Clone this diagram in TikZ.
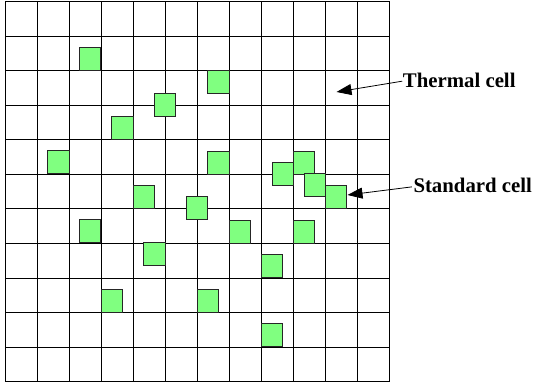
\documentclass[tikz,border=0pt]{standalone}
\usepackage{fontspec}
\setmainfont{Liberation Serif}
\usetikzlibrary{arrows.meta}
\definecolor{cellgreen}{HTML}{80FF80}
\begin{document}
\begin{tikzpicture}[x=1pt,y=-1pt,
  gridline/.style={draw=black,line width=0.9pt},
  cellbox/.style={draw=black!85,fill=cellgreen,line width=0.9pt,anchor=north west,
    minimum width=21.5pt,minimum height=23pt,inner sep=0pt,outer sep=0pt},
  labeltext/.style={font=\fontsize{20.8}{24}\selectfont\bfseries,inner sep=0pt,anchor=base west},
  pointer/.style={draw=black,line width=0.8pt,-{Triangle[length=15pt,width=11pt]}}]
\useasboundingbox (0,0) rectangle (535,385);
% grid
\foreach \i in {0,...,12} {
  \draw[gridline] ({5+32*\i},1.5) -- ({5+32*\i},381.7);
}
\foreach \j in {0,...,11} {
  \draw[gridline] (5,{1.5+34.56*\j}) -- (389,{1.5+34.56*\j});
}
% standard cells
\node[cellbox] (sA) at (79.3,47.3) {};
\node[cellbox] (sG) at (207.7,70.3) {};
\node[cellbox] (sB) at (154.3,93.3) {};
\node[cellbox] (sC) at (111.7,116.3) {};
\node[cellbox] (sD) at (47.7,150.7) {};
\node[cellbox] (sH) at (207.7,151) {};
\node[cellbox] (sJ) at (293.3,151) {};
\node[cellbox] (sI) at (272,162.3) {};
\node[cellbox] (sK) at (304,173.7) {};
\node[cellbox] (sE) at (133.3,185.3) {};
\node[cellbox] (sL) at (325.3,185.3) {};
\node[cellbox] (sF) at (186,196.7) {};
\node[cellbox] (sM) at (79.3,219.3) {};
\node[cellbox] (sQ) at (229.3,220) {};
\node[cellbox] (sR) at (293.3,220) {};
\node[cellbox] (sN) at (143.7,242.7) {};
\node[cellbox] (sS) at (261.3,254.3) {};
\node[cellbox] (sO) at (101.3,289) {};
\node[cellbox] (sP) at (197.3,289) {};
\node[cellbox] (sT) at (261.3,323.3) {};
% labels
\node[labeltext] (thermal) at (402.7,87.3) {Thermal cell};
\node[labeltext] (standard) at (413.3,192.5) {Standard cell};
\coordinate (thermaltip) at (336.5,92);
\coordinate (standardtip) at (347.5,195);
\draw[pointer] ([xshift=-0.5pt,yshift=-1pt]thermal.west) -- (thermaltip);
\draw[pointer] ([xshift=-1.5pt,yshift=-1.5pt]standard.west) -- (standardtip);
\end{tikzpicture}
\end{document}
